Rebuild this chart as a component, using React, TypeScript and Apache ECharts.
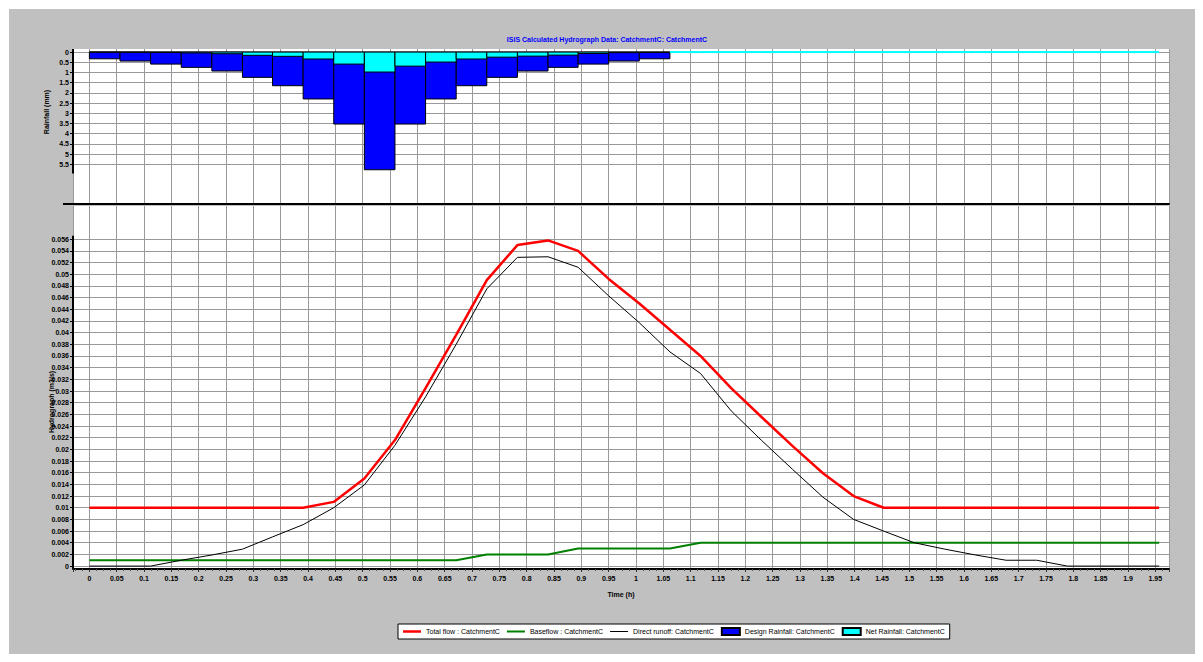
import React, { useEffect, useRef } from "react";
import * as echarts from "echarts";

// Time points of the hydrograph (h)
const TIME = [0, 0.056, 0.112, 0.168, 0.224, 0.28, 0.335, 0.391, 0.447, 0.503, 0.559, 0.615, 0.671, 0.727, 0.783, 0.839, 0.894, 0.95, 1.006, 1.062, 1.118, 1.174, 1.23, 1.286, 1.342, 1.398, 1.453, 1.509, 1.565, 1.621, 1.677, 1.733, 1.789, 1.845, 1.901, 1.957];

// Hydrograph values (m3/s)
const TOTAL_FLOW = [0.01, 0.01, 0.01, 0.01, 0.01, 0.01, 0.01, 0.01, 0.011, 0.015, 0.0216, 0.0305, 0.0396, 0.049, 0.055, 0.0558, 0.054, 0.0492, 0.045, 0.0405, 0.036, 0.0305, 0.0255, 0.0206, 0.0159, 0.012, 0.01, 0.01, 0.01, 0.01, 0.01, 0.01, 0.01, 0.01, 0.01, 0.01];
const BASEFLOW = [0.001, 0.001, 0.001, 0.001, 0.001, 0.001, 0.001, 0.001, 0.001, 0.001, 0.001, 0.001, 0.001, 0.002, 0.002, 0.002, 0.003, 0.003, 0.003, 0.003, 0.004, 0.004, 0.004, 0.004, 0.004, 0.004, 0.004, 0.004, 0.004, 0.004, 0.004, 0.004, 0.004, 0.004, 0.004, 0.004];
const DIRECT_RUNOFF = [0, 0, 0, 0.001, 0.0019, 0.0029, 0.005, 0.0071, 0.01, 0.0139, 0.0207, 0.029, 0.038, 0.0475, 0.0529, 0.053, 0.0512, 0.0463, 0.0417, 0.0367, 0.033, 0.0266, 0.0215, 0.0166, 0.0118, 0.008, 0.006, 0.004, 0.0029, 0.0019, 0.001, 0.001, 0, 0, 0, 0];

// Rainfall per interval (mm), interval i spans TIME[i]..TIME[i+1]
const DESIGN_RAIN = [0.33, 0.44, 0.59, 0.75, 0.93, 1.24, 1.65, 2.3, 3.53, 5.77, 3.53, 2.3, 1.65, 1.24, 0.93, 0.75, 0.59, 0.44, 0.33];
const NET_RAIN = [0.005, 0.01, 0.02, 0.04, 0.08, 0.16, 0.21, 0.34, 0.59, 0.98, 0.69, 0.49, 0.34, 0.25, 0.2, 0.15, 0.07, 0.03, 0.02, 0, 0, 0, 0, 0, 0, 0, 0, 0, 0, 0, 0, 0, 0, 0, 0];

// Tick labels
const RAIN_TICKS = [0, 0.5, 1, 1.5, 2, 2.5, 3, 3.5, 4, 4.5, 5, 5.5];
const FLOW_TICKS = [0, 0.002, 0.004, 0.006, 0.008, 0.01, 0.012, 0.014, 0.016, 0.018, 0.02, 0.022, 0.024, 0.026, 0.028, 0.03, 0.032, 0.034, 0.036, 0.038, 0.04, 0.042, 0.044, 0.046, 0.048, 0.05, 0.052, 0.054, 0.056];

const TITLE = "ISIS Calculated Hydrograph Data: CatchmentC: CatchmentC";
const SERIES_NAMES = ["Total flow : CatchmentC", "Baseflow : CatchmentC", "Direct runoff: CatchmentC", "Design Rainfall: CatchmentC", "Net Rainfall: CatchmentC"];

const X_MIN = -0.03;
const X_MAX = 1.975;
const X_STEP = 0.05;
const RAIN_MIN = -0.15;
const RAIN_MAX = 7.45;
const RAIN_STEP = 0.5;
const RAIN_AXIS_END = 5.95;
const FLOW_MIN = -0.0005;
const FLOW_MAX = 0.0617;
const FLOW_STEP = 0.002;
const FLOW_AXIS_END = 0.0566;

const FONT = "Liberation Sans, Arial, sans-serif";
const GRID_COLOR = "#999999";

function stepFormatter(step: number, lo: number, hi: number, digits: number) {
  return (v: number) => {
    const r = Math.round(v / step);
    if (Math.abs(v - r * step) > step * 1e-3) return "";
    const val = r * step;
    if (val < lo - 1e-9 || val > hi + 1e-9) return "";
    if (Math.abs(val) < 1e-12) return "0";
    return String(+val.toFixed(digits));
  };
}

function barRenderer(fill: string) {
  return (params: any, api: any) => {
    const v = api.value(2);
    const a = api.coord([api.value(0), 0]);
    const b = api.coord([api.value(1), v]);
    if (v === 0) {
      return {
        type: "line",
        shape: { x1: a[0], y1: a[1], x2: b[0], y2: a[1] },
        style: { stroke: "#00ffff", lineWidth: 2 },
      };
    }
    return {
      type: "rect",
      shape: { x: a[0], y: a[1], width: b[0] - a[0], height: b[1] - a[1] },
      style: { fill, stroke: "#000000", lineWidth: 1 },
    };
  };
}

const LABEL_STYLE = { fontSize: 7, color: "#000", fontFamily: FONT, fontWeight: "bold" as const };

function xAxisBase(gridIndex: number, showLabels: boolean) {
  return {
    type: "value",
    gridIndex,
    min: X_MIN,
    max: X_MAX,
    splitNumber: 40,
    minInterval: X_STEP,
    maxInterval: X_STEP,
    position: "bottom",
    axisLine: { show: true, onZero: false, lineStyle: { color: "#000", width: 2 } },
    axisTick: { show: showLabels, length: 3, lineStyle: { color: "#333" } },
    minorTick: { show: showLabels, splitNumber: 4, length: 2, lineStyle: { color: "#555" } },
    axisLabel: {
      show: showLabels,
      formatter: stepFormatter(X_STEP, 0, 1.95, 2),
      margin: 6,
      ...LABEL_STYLE,
    },
    splitLine: { show: true, lineStyle: { color: GRID_COLOR, width: 1 } },
  };
}

export default function App() {
  const ref = useRef<HTMLDivElement>(null);

  useEffect(() => {
    if (!ref.current) return;
    const chart = echarts.init(ref.current, null, { renderer: "svg" });

    const designData = DESIGN_RAIN.map((v, i) => [TIME[i], TIME[i + 1], v]);
    const netData = NET_RAIN.map((v, i) => [TIME[i], TIME[i + 1], v]);

    const option: any = {
      animation: false,
      backgroundColor: "transparent",
      textStyle: { fontFamily: FONT },
      grid: [
        { left: 73, right: 34, top: 49, height: 155, show: true, backgroundColor: "#ffffff", borderWidth: 0 },
        { left: 73, right: 34, top: 206, height: 363, show: true, backgroundColor: "#ffffff", borderWidth: 0 },
      ],
      xAxis: [
        xAxisBase(0, false),
        {
          ...xAxisBase(1, true),
          name: "Time (h)",
          nameLocation: "middle",
          nameGap: 22,
          nameTextStyle: { ...LABEL_STYLE },
        },
      ],
      yAxis: [
        {
          type: "value",
          gridIndex: 0,
          inverse: true,
          min: RAIN_MIN,
          max: RAIN_MAX,
          splitNumber: 15,
          minInterval: RAIN_STEP,
          maxInterval: RAIN_STEP,
          axisLine: { show: false, onZero: false },
          axisTick: { show: true, length: 3, customValues: RAIN_TICKS, lineStyle: { color: "#000" } },
          axisLabel: { formatter: stepFormatter(RAIN_STEP, 0, 5.5, 1), customValues: RAIN_TICKS, margin: 4, ...LABEL_STYLE },
          splitLine: { show: true, lineStyle: { color: GRID_COLOR, width: 1 } },
        },
        {
          type: "value",
          gridIndex: 1,
          min: FLOW_MIN,
          max: FLOW_MAX,
          splitNumber: 31,
          minInterval: FLOW_STEP,
          maxInterval: FLOW_STEP,
          axisLine: { show: false, onZero: false },
          axisTick: { show: true, length: 3, customValues: FLOW_TICKS, lineStyle: { color: "#000" } },
          axisLabel: { formatter: stepFormatter(FLOW_STEP, 0, 0.056, 3), customValues: FLOW_TICKS, margin: 4, ...LABEL_STYLE },
          splitLine: { show: true, lineStyle: { color: GRID_COLOR, width: 1 } },
        },
      ],
      legend: {
        left: 398,
        top: 624,
        orient: "horizontal",
        backgroundColor: "#ffffff",
        borderColor: "#000000",
        borderWidth: 1,
        borderRadius: 0,
        padding: [3, 5, 3, 5],
        itemGap: 7,
        itemWidth: 18,
        itemHeight: 7,
        textStyle: { fontSize: 7, color: "#000", fontFamily: FONT },
        data: [
          { name: SERIES_NAMES[0], icon: "path://M0 0H18V2.5H0Z" },
          { name: SERIES_NAMES[1], icon: "path://M0 0H18V2H0Z" },
          { name: SERIES_NAMES[2], icon: "path://M0 0H18V1H0Z" },
          { name: SERIES_NAMES[3], icon: "rect" },
          { name: SERIES_NAMES[4], icon: "rect" },
        ],
      },
      graphic: [
        {
          type: "text",
          x: 607,
          y: 39,
          style: { text: TITLE, fill: "#0000ff", font: `bold 7px ${FONT}`, align: "center", verticalAlign: "middle" },
        },
        {
          type: "text",
          x: 46,
          y: 112,
          rotation: Math.PI / 2,
          style: { text: "Rainfall (mm)", fill: "#000", font: `bold 7px ${FONT}`, align: "center", verticalAlign: "middle" },
        },
        {
          type: "text",
          x: 51,
          y: 402,
          rotation: Math.PI / 2,
          style: { text: "Hydrograph (m3/s)", fill: "#000", font: `bold 7px ${FONT}`, align: "center", verticalAlign: "middle" },
        },
        {
          type: "line",
          shape: { x1: 63, y1: 204, x2: 74, y2: 204 },
          style: { stroke: "#000", lineWidth: 2 },
        },
      ],
      series: [
        {
          name: SERIES_NAMES[3],
          type: "custom",
          xAxisIndex: 0,
          yAxisIndex: 0,
          renderItem: barRenderer("#0000ff"),
          encode: { x: [0, 1], y: 2 },
          itemStyle: { color: "#0000ff", borderColor: "#000", borderWidth: 1 },
          data: designData,
          markLine: {
            silent: true,
            symbol: ["none", "none"],
            label: { show: false },
            lineStyle: { color: "#000", width: 2, type: "solid" },
            data: [[{ coord: [X_MIN, RAIN_MIN] }, { coord: [X_MIN, RAIN_AXIS_END] }]],
          },
        },
        {
          name: SERIES_NAMES[4],
          type: "custom",
          xAxisIndex: 0,
          yAxisIndex: 0,
          renderItem: barRenderer("#00ffff"),
          encode: { x: [0, 1], y: 2 },
          itemStyle: { color: "#00ffff", borderColor: "#000", borderWidth: 1 },
          data: netData,
        },
        {
          name: SERIES_NAMES[0],
          type: "line",
          xAxisIndex: 1,
          yAxisIndex: 1,
          symbol: "none",
          showSymbol: false,
          lineStyle: { color: "#ff0000", width: 2.5 },
          itemStyle: { color: "#ff0000" },
          data: TIME.map((t, i) => [t, TOTAL_FLOW[i]]),
          markLine: {
            silent: true,
            symbol: ["none", "none"],
            label: { show: false },
            lineStyle: { color: "#000", width: 2, type: "solid" },
            data: [[{ coord: [X_MIN, FLOW_MIN] }, { coord: [X_MIN, FLOW_AXIS_END] }]],
          },
        },
        {
          name: SERIES_NAMES[1],
          type: "line",
          xAxisIndex: 1,
          yAxisIndex: 1,
          symbol: "none",
          showSymbol: false,
          lineStyle: { color: "#008000", width: 2 },
          itemStyle: { color: "#008000" },
          data: TIME.map((t, i) => [t, BASEFLOW[i]]),
        },
        {
          name: SERIES_NAMES[2],
          type: "line",
          xAxisIndex: 1,
          yAxisIndex: 1,
          symbol: "none",
          showSymbol: false,
          lineStyle: { color: "#000000", width: 1 },
          itemStyle: { color: "#000000" },
          data: TIME.map((t, i) => [t, DIRECT_RUNOFF[i]]),
        },
      ],
    };

    chart.setOption(option);
    return () => chart.dispose();
  }, []);

  return (
    <div style={{ position: "absolute", left: 0, top: 0, width: 1203, height: 662, background: "#ffffff", overflow: "hidden" }}>
      <div style={{ position: "absolute", left: 9, top: 9, width: 1186, height: 645, background: "#c0c0c0" }} />
      <div ref={ref} style={{ position: "absolute", left: 0, top: 0, width: 1203, height: 662 }} />
    </div>
  );
}
